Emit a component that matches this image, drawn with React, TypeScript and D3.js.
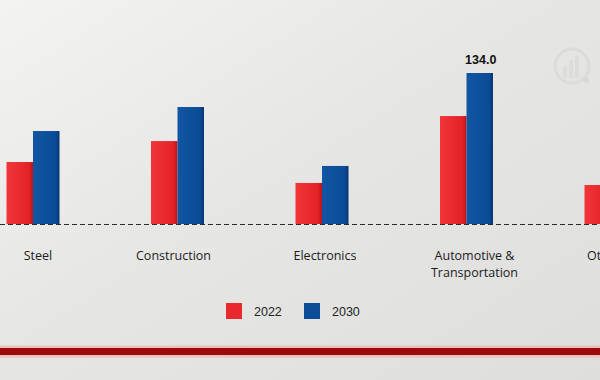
import React from "react";
import * as d3 from "d3";

const categories = ["Steel", "Construction", "Electronics", "Automotive & Transportation", "Others"];
const labelLines = [["Steel"], ["Construction"], ["Electronics"], ["Automotive &", "Transportation"], ["Others"]];
const values2022 = [55.0, 73.6, 36.4, 95.8, 34.6];
const values2030 = [82.5, 103.8, 51.5, 134.0, 48.0];
const seriesNames = ["2022", "2030"];
const annotated = { category: "Automotive & Transportation", series: "2030", text: "134.0" };

const W = 600;
const H = 380;

export default function App() {
  const x = d3.scalePoint<string>().domain(categories).range([33, 33 + 4 * 144.5]);
  const y = d3.scaleLinear().domain([0, 134]).range([224, 73]);
  const barW = 26.5;
  const series = [
    { name: seriesNames[0], values: values2022, fill: "url(#gRed)" },
    { name: seriesNames[1], values: values2030, fill: "url(#gBlue)" },
  ];
  const font = "'Open Sans', 'Segoe UI', Arial, sans-serif";
  const labelOffset = [5, -4, 3, 8, -24];
  return (
    <svg width={W} height={H} style={{ position: "fixed", left: 0, top: 0 }}>
      <defs>
        <linearGradient id="bg" x1="0" y1="0" x2="1" y2="1">
          <stop offset="0" stopColor="#f3f3f2" />
          <stop offset="0.45" stopColor="#e6e6e5" />
          <stop offset="1" stopColor="#dededd" />
        </linearGradient>
        <linearGradient id="gRed" x1="0" y1="0" x2="1" y2="0">
          <stop offset="0" stopColor="#f0363a" />
          <stop offset="0.85" stopColor="#e32226" />
          <stop offset="1" stopColor="#b81418" />
        </linearGradient>
        <linearGradient id="gBlue" x1="0" y1="0" x2="1" y2="0">
          <stop offset="0" stopColor="#1156a4" />
          <stop offset="0.85" stopColor="#0b4b95" />
          <stop offset="1" stopColor="#073670" />
        </linearGradient>
      </defs>
      <rect x={0} y={0} width={W} height={H} fill="url(#bg)" />
      {/* watermark */}
      <g opacity={0.15}>
        <circle cx={572} cy={66} r={17} fill="none" stroke="#aaaaaa" strokeWidth={3} />
        <rect x={563} y={66} width={4} height={12} fill="#b0b0b0" />
        <rect x={569} y={60} width={4} height={18} fill="#b0b0b0" />
        <rect x={575} y={56} width={4} height={22} fill="#b0b0b0" />
        <circle cx={586} cy={80} r={3} fill="#e08080" />
      </g>
      {/* baseline */}
      <line x1={0} x2={W} y1={224.5} y2={224.5} stroke="#2a2a2a" strokeWidth={1.2} strokeDasharray="5,3" />
      {/* bars */}
      {categories.map((c, i) => (
        <g key={c}>
          {series.map((s, j) => {
            const x0 = (x(c) as number) - barW + j * barW;
            return (
              <rect key={s.name} x={x0} y={y(s.values[i])} width={barW} height={y(0) - y(s.values[i])} fill={s.fill} />
            );
          })}
        </g>
      ))}
      {/* annotation */}
      {(() => {
        const i = categories.indexOf(annotated.category);
        const j = seriesNames.indexOf(annotated.series);
        const v = series[j].values[i];
        const cx = (x(annotated.category) as number) + barW / 2;
        return (
          <text x={cx + 1} y={y(v) - 9} textAnchor="middle" fontFamily="Arial, 'Liberation Sans', sans-serif" fontWeight="bold" fontSize={12.5} fill="#111">
            {annotated.text}
          </text>
        );
      })()}
      {/* category labels */}
      {categories.map((c, i) => {
        const lx = (x(c) as number) + labelOffset[i];
        return (
          <text key={c} x={lx} y={260} textAnchor={i === 4 ? "start" : "middle"} fontFamily={font} fontSize={12.5} fill="#1c1c1c">
            {labelLines[i].map((l, k) => (
              <tspan key={k} x={lx} dy={k === 0 ? 0 : 17}>
                {l}
              </tspan>
            ))}
          </text>
        );
      })}
      {/* legend */}
      {series.map((s, j) => (
        <g key={s.name} transform={`translate(${226 + j * 78},303)`}>
          <rect x={0} y={0} width={16} height={16} fill={j === 0 ? "#e8282c" : "#0b4c96"} />
          <text x={28} y={12.5} fontFamily="Arial, 'Liberation Sans', sans-serif" fontSize={12.5} fill="#222">
            {s.name}
          </text>
        </g>
      ))}
      {/* bottom red rule */}
      <rect x={0} y={345.5} width={W} height={12} fill="#f2b4b0" opacity={0.8} />
      <rect x={0} y={348} width={W} height={7} fill="#9c0b0b" />
    </svg>
  );
}
